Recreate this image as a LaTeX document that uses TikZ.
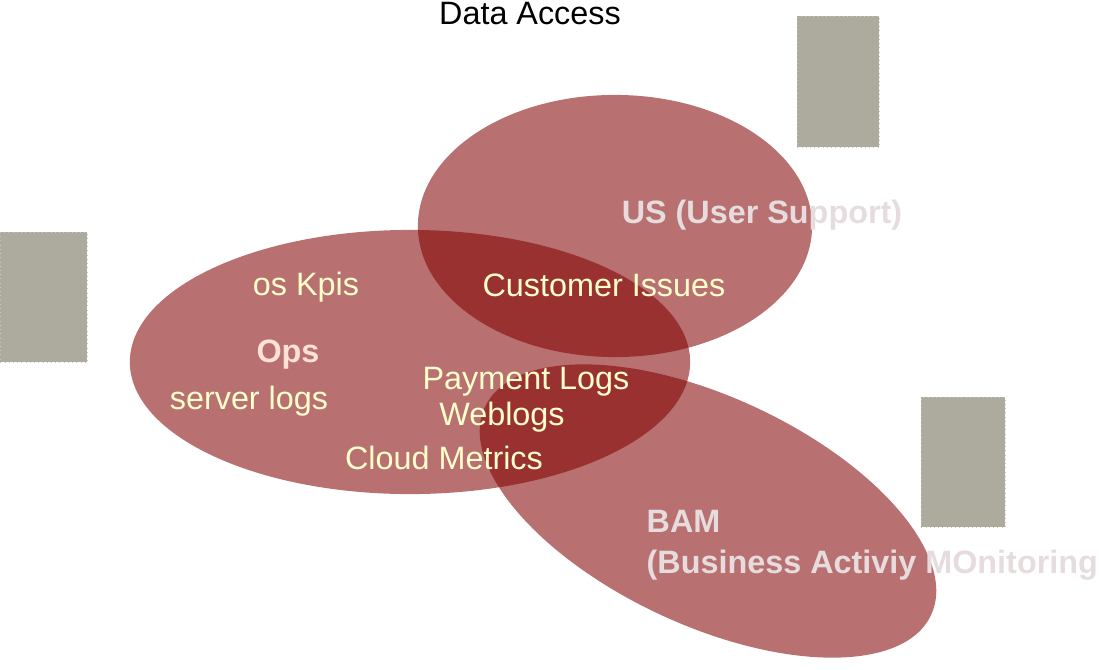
\documentclass[tikz,border=0pt]{standalone}
\usepackage{fontspec}
\setmainfont{Liberation Sans}
\usetikzlibrary{shapes.geometric}
\definecolor{VnRed}{RGB}{129,0,0}
\definecolor{VnCream}{HTML}{FFFFCC}
\definecolor{VnPeach}{HTML}{FFE2D4}
\definecolor{VnMist}{HTML}{E6DCDE}
\definecolor{VnStone}{HTML}{ADAA9E}
\definecolor{VnEdge}{HTML}{C8C6BE}

\begin{document}
\begin{tikzpicture}[
    x=0.01cm,y=-0.01cm,
    font=\fontsize{9.2pt}{11.7pt}\selectfont,
    blob/.style={ellipse,fill=VnRed,fill opacity=0.56,draw=none,inner sep=0pt,outer sep=0pt},
    stonebox/.style={rectangle,fill=VnStone,draw=VnEdge,densely dotted,very thin,inner sep=0pt,anchor=north west},
    item/.style={text=VnCream,inner sep=0pt},
    group/.style={text=VnMist,font=\fontsize{9.2pt}{11.7pt}\selectfont\bfseries,inner sep=0pt}
  ]
    \useasboundingbox (0,0) rectangle (1099,669);
    \node[blob,minimum width=5.6cm,minimum height=2.64cm] (ops) at (410,362) {};
    \node[blob,minimum width=3.94cm,minimum height=2.62cm] (us) at (615,226) {};
    \node[blob,minimum width=4.92cm,minimum height=2.28cm,rotate=-25] (bam) at (708,511) {};
    \node[stonebox,minimum width=0.87cm,minimum height=1.30cm] (boxl) at (0,232) {};
    \node[stonebox,minimum width=0.82cm,minimum height=1.31cm] (boxt) at (797,16) {};
    \node[stonebox,minimum width=0.84cm,minimum height=1.30cm] (boxr) at (921,397) {};
    \node (title) at (530,14) {Data Access};
    \node[item] (kpis) at (306,287) {os Kpis};
    \node[item,text=VnPeach,font=\fontsize{9.2pt}{11.7pt}\selectfont\bfseries] (opsname) at (288,355) {Ops};
    \node[item] (srv) at (249,401) {server logs};
    \node[item] (cust) at (604,285) {Customer Issues};
    \node[item] (pay) at (526,382) {Payment Logs};
    \node[item] (web) at (502,417) {Weblogs};
    \node[item] (cloud) at (444,458) {Cloud Metrics};
    \node[group] (usname) at (762,215) {US (User Support)};
    \node[group,anchor=west,align=left] (bamname) at (646,545) {BAM\\(Business Activiy MOnitoring};
  \end{tikzpicture}
\end{document}
